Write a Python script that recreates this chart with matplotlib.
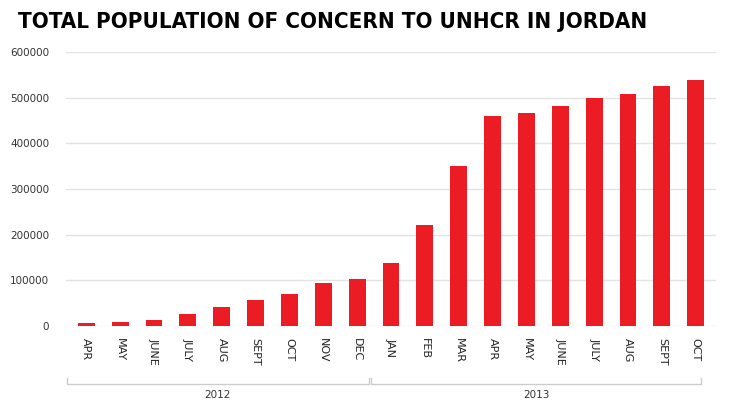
import numpy as np
import matplotlib.pyplot as plt

# Data
months = ["APR", "MAY", "JUNE", "JULY", "AUG", "SEPT", "OCT", "NOV", "DEC",
          "JAN", "FEB", "MAR", "APR", "MAY", "JUNE", "JULY", "AUG", "SEPT", "OCT"]
population = [6000, 9500, 13000, 26000, 41000, 56000, 69000, 94000, 104000,
              137000, 222000, 351000, 460000, 466000, 482000, 499000, 509000, 525000, 538000]
years = ["2012", "2013"]
year_counts = [9, 10]

RED = "#ec1c24"

fig = plt.figure(figsize=(7.34, 4.13), dpi=100)
ax = fig.add_axes([66 / 734, 1 - 326 / 413, 650 / 734, 274 / 413])

x = np.arange(len(months))
ax.bar(x, population, width=0.5, color=RED, zorder=3)

ax.set_xlim(-0.6, len(months) - 0.4)
ax.set_ylim(0, 600000)
ax.set_yticks(np.arange(0, 600001, 100000))
ax.set_yticklabels([str(v) for v in range(0, 600001, 100000)])
ax.yaxis.grid(True, color="#e3e3e3", linewidth=1, zorder=0)
for s in ax.spines.values():
    s.set_visible(False)
ax.tick_params(axis="y", length=0, pad=12, labelsize=7.5, labelcolor="#333333")
ax.tick_params(axis="x", length=0, pad=9, labelsize=8, labelcolor="#222222")
ax.set_xticks(x)
ax.set_xticklabels(months, rotation=270, va="top", ha="center")

# Year group brackets
trans = ax.get_xaxis_transform()
start = -0.6
for yr, n in zip(years, year_counts):
    end = start + n
    x0, x1 = start + 0.02, end - 0.05
    if yr == years[-1]:
        x1 = end - 0.25
    ax.plot([x0, x0, x1, x1], [-0.19, -0.21, -0.21, -0.19], transform=trans,
            color="#cccccc", linewidth=1, clip_on=False)
    ax.text((x0 + x1) / 2, -0.235, yr, transform=trans, ha="center", va="top",
            fontsize=7.5, color="#333333")
    start = end

fig.text(18 / 734, 1 - 22 / 413, "TOTAL POPULATION OF CONCERN TO UNHCR IN JORDAN",
         fontsize=16, fontweight="heavy", family="DejaVu Sans", fontstretch="condensed",
         va="center", ha="left", color="black")

fig.savefig("out.png", dpi=100)
